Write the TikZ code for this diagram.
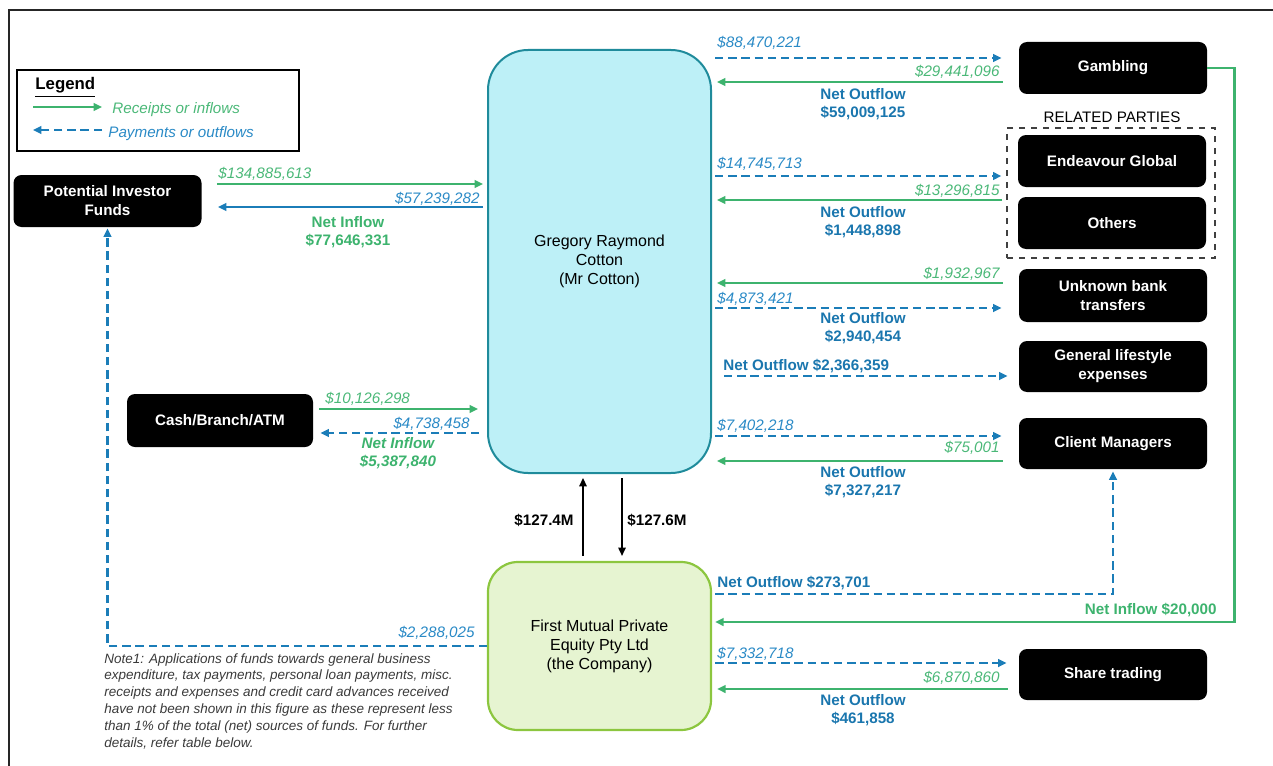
\documentclass[tikz,border=0pt]{standalone}
\usepackage{fontspec}
\setmainfont{Liberation Sans}
\usepackage{tikz}
\usetikzlibrary{arrows.meta, calc}
\definecolor{flowgreen}{HTML}{3DB36E}
\definecolor{flowblue}{HTML}{1B7DB8}
\definecolor{amtgreen}{HTML}{4BB878}
\definecolor{amtblue}{HTML}{2A8AC6}
\definecolor{netblue}{HTML}{1A76AE}
\definecolor{gregfill}{HTML}{BDF0F7}
\definecolor{gregdraw}{HTML}{1F8B9B}
\definecolor{cofill}{HTML}{E6F4D1}
\definecolor{codraw}{HTML}{8CC63F}
\definecolor{notegray}{HTML}{3A3A3A}

\begin{document}
\begin{tikzpicture}[>={Triangle[length=4.2pt,width=3.8pt]}, x=0.5pt, y=-0.5pt, every node/.style={font=\fontsize{7.6}{9}\selectfont}]
\tikzset{
  party/.style={fill=black, text=white, rounded corners=4pt, minimum width=94pt, minimum height=26pt, inner sep=0pt, align=center, font=\fontsize{7.6}{9.5}\selectfont\bfseries},
  gregbox/.style={draw=gregdraw, fill=gregfill, line width=1pt, rounded corners=20pt, minimum width=111.5pt, minimum height=211.5pt, align=center, font=\fontsize{8}{9.5}\selectfont},
  cobox/.style={draw=codraw, fill=cofill, line width=1.1pt, rounded corners=15pt, minimum width=111.5pt, minimum height=84pt, align=center, font=\fontsize{8}{9.5}\selectfont},
  rpbox/.style={draw=black!75, dashed, line width=0.6pt, minimum width=104pt, minimum height=65pt},
  recv/.style={->, flowgreen, line width=1.15pt},
  pay/.style={->, flowblue, line width=1.15pt, dash pattern=on 4.2pt off 2.4pt},
  paysolid/.style={->, flowblue, line width=1.15pt},
  amtg/.style={text=amtgreen, font=\fontsize{7.6}{9}\selectfont\itshape, inner sep=0pt},
  amtb/.style={text=amtblue, font=\fontsize{7.6}{9}\selectfont\itshape, inner sep=0pt},
  netg/.style={text=flowgreen, font=\fontsize{7.6}{9}\selectfont\bfseries, inner sep=0pt, align=center},
  netb/.style={text=netblue, font=\fontsize{7.6}{9}\selectfont\bfseries, inner sep=0pt, align=center},
  fund/.style={->, black, line width=0.65pt},
}
\useasboundingbox (0,0) rectangle (1273,765);
% frame
\draw[black!85, line width=1pt] (9,790) -- (9,10) -- (1290,10);

% legend
\node[draw, line width=1pt, minimum width=141pt, minimum height=40.5pt, inner sep=0pt] (legend) at (158,110.5) {};
\node[anchor=base west, inner sep=0pt, font=\fontsize{8.4}{9}\selectfont\bfseries] (legtitle) at (35,90) {\underline{Legend}};
\coordinate (lgA) at (33,107);
\coordinate (lgB) at (102,107);
\coordinate (lgC) at (102,130);
\coordinate (lgD) at (33,130);
\draw[recv] (lgA) -- (lgB);
\draw[pay] (lgC) -- (lgD);
\node[amtg, anchor=base west] (legrecv) at (112,113) {Receipts or inflows};
\node[amtb, anchor=base west] (legpay) at (108,137) {Payments or outflows};

% main parties
\node[gregbox] (greg) at (599.5,261.5) {Gregory Raymond\\Cotton\\(Mr Cotton)};
\node[cobox] (fmp) at (599.5,646) {First Mutual Private\\Equity Pty Ltd\\(the Company)};

% left side
\node[party] (inv) at (107.5,201) {Potential Investor\\Funds};
\node[party, minimum width=93pt, minimum height=26.5pt] (cash) at (220,420.5) {Cash/Branch/ATM};

% right side
\node[party] (gam) at (1113,68) {Gambling};
\node[anchor=base] (rplabel) at (1112,123) {RELATED PARTIES};
\node[rpbox] (rp) at (1111,193) {};
\node[party] (endv) at (1112,161) {Endeavour Global};
\node[party] (oth) at (1112,223) {Others};
\node[party, minimum height=26.5pt] (unk) at (1113,295.5) {Unknown bank\\transfers};
\node[party, minimum height=25.5pt] (life) at (1113,366.5) {General lifestyle\\expenses};
\node[party, minimum height=25.5pt] (cli) at (1113,443.5) {Client Managers};
\node[party, minimum height=25.5pt] (shr) at (1113,674.5) {Share trading};

% investor funds
\draw[recv, shorten <=7.5pt, shorten >=2pt] ([yshift=8.5pt]inv.east) -- ([yshift=8.5pt]inv.east -| greg.west);
\draw[paysolid, shorten <=2pt, shorten >=8pt] ([yshift=-3pt]inv.east -| greg.west) -- ([yshift=-3pt]inv.east);
\node[amtg, anchor=base west] (invin) at (218,178) {\$134,885,613};
\node[amtb, anchor=base east] (invout) at (480,203) {\$57,239,282};
\node[netg, anchor=north] (invnet) at (348,216) {Net Inflow\\\$77,646,331};

% cash
\draw[recv, shorten <=3pt, shorten >=4.5pt] ([yshift=5.75pt]cash.east) -- ([yshift=5.75pt]cash.east -| greg.west);
\draw[pay, shorten <=4pt, shorten >=3.5pt] ([yshift=-6.25pt]cash.east -| greg.west) -- ([yshift=-6.25pt]cash.east);
\node[amtg, anchor=base west] (cashin) at (325,403) {\$10,126,298};
\node[amtb, anchor=base east] (cashout) at (470,428) {\$4,738,458};
\node[netg, anchor=north, font=\fontsize{7.6}{9}\selectfont\bfseries\itshape] (cashnet) at (398,437) {Net Inflow\\\$5,387,840};

% gambling
\draw[pay, shorten <=1.5pt, shorten >=8.5pt] ([yshift=5pt]gam.west -| greg.east) -- ([yshift=5pt]gam.west);
\draw[recv, shorten <=8pt, shorten >=2.5pt] ([yshift=-7pt]gam.west) -- ([yshift=-7pt]gam.west -| greg.east);
\node[amtb, anchor=base west] (gamout) at (717,48) {\$88,470,221};
\node[amtg, anchor=base east] (gamin) at (1000,76) {\$29,441,096};
\node[netb, anchor=north] (gamnet) at (863,88) {Net Outflow\\\$59,009,125};

% related parties
\draw[pay, shorten <=1.5pt, shorten >=2.5pt] ([yshift=8.5pt]rp.west -| greg.east) -- ([yshift=8.5pt]rp.west);
\draw[recv, shorten <=2pt, shorten >=2.5pt] ([yshift=-3.5pt]rp.west) -- ([yshift=-3.5pt]rp.west -| greg.east);
\node[amtb, anchor=base west] (rpout) at (717,169) {\$14,745,713};
\node[amtg, anchor=base east] (rpin) at (1000,195) {\$13,296,815};
\node[netb, anchor=north] (rpnet) at (863,206) {Net Outflow\\\$1,448,898};

% unknown transfers
\draw[recv, shorten <=8pt, shorten >=2.5pt] ([yshift=6.25pt]unk.west) -- ([yshift=6.25pt]unk.west -| greg.east);
\draw[pay, shorten <=1.5pt, shorten >=8.5pt] ([yshift=-6.25pt]unk.west -| greg.east) -- ([yshift=-6.25pt]unk.west);
\node[amtg, anchor=base east] (unkin) at (1000,278) {\$1,932,967};
\node[amtb, anchor=base west] (unkout) at (717,303) {\$4,873,421};
\node[netb, anchor=north] (unknet) at (863,312) {Net Outflow\\\$2,940,454};

% lifestyle
\draw[pay, shorten <=6pt, shorten >=5.5pt] ([yshift=-4.75pt]life.west -| greg.east) -- ([yshift=-4.75pt]life.west);
\node[netb, anchor=base west] (lifenet) at (723,370) {Net Outflow \$2,366,359};

% client managers
\draw[pay, shorten <=1.5pt, shorten >=8.5pt] ([yshift=3.75pt]cli.west -| greg.east) -- ([yshift=3.75pt]cli.west);
\draw[recv, shorten <=8pt, shorten >=2.5pt] ([yshift=-8.75pt]cli.west) -- ([yshift=-8.75pt]cli.west -| greg.east);
\node[amtb, anchor=base west] (cliout) at (717,430) {\$7,402,218};
\node[amtg, anchor=base east] (cliin) at (1000,452) {\$75,001};
\node[netb, anchor=north] (clinet) at (863,466) {Net Outflow\\\$7,327,217};

% company and Mr Cotton
\draw[fund, shorten <=2.5pt, shorten >=2pt] ([xshift=-8.25pt]fmp.north) -- ([xshift=-8.25pt]fmp.north |- greg.south);
\draw[fund, shorten <=2pt, shorten >=2.5pt] ([xshift=11.25pt]fmp.north |- greg.south) -- ([xshift=11.25pt]fmp.north);
\node[anchor=base east, inner sep=0pt, font=\fontsize{7.6}{9}\selectfont\bfseries] (fmpup) at (574,525) {\$127.4M};
\node[anchor=base west, inner sep=0pt, font=\fontsize{7.6}{9}\selectfont\bfseries] (fmpdown) at (627,525) {\$127.6M};

% company flows
\draw[pay, shorten <=1.5pt, shorten >=1pt] ([yshift=26pt]fmp.east) -| (cli.south);
\node[netb, anchor=base west] (clicnet) at (717,587) {Net Outflow \$273,701};
\draw[recv, shorten >=1.5pt] (gam.east) -- ++(27,0) |- ([yshift=12pt]fmp.east);
\node[netg, anchor=base east] (gamcnet) at (1217,614) {Net Inflow \$20,000};
\draw[pay, shorten <=1.5pt, shorten >=6pt] ([yshift=5.75pt]shr.west -| fmp.east) -- ([yshift=5.75pt]shr.west);
\draw[recv, shorten <=5.5pt, shorten >=2.5pt] ([yshift=-7.25pt]shr.west) -- ([yshift=-7.25pt]shr.west -| fmp.east);
\node[amtb, anchor=base west] (shrout) at (717,658) {\$7,332,718};
\node[amtg, anchor=base east] (shrin) at (1000,682) {\$6,870,860};
\node[netb, anchor=north] (shrnet) at (863,694) {Net Outflow\\\$461,858};
\draw[pay, shorten >=0.5pt] (fmp.west) -| (inv.south);
\node[amtb, anchor=base east] (invcout) at (475,637) {\$2,288,025};

% note
\node[anchor=north west, align=left, inner sep=0pt, text=notegray, font=\fontsize{6.75}{8.4}\selectfont\itshape] (note) at (104,653) {Note1: Applications of funds towards general business\\expenditure, tax payments, personal loan payments, misc.\\receipts and expenses and credit card advances received\\have not been shown in this figure as these represent less\\than 1\% of the total (net) sources of funds. For further\\details, refer table below.};
\end{tikzpicture}
\end{document}
